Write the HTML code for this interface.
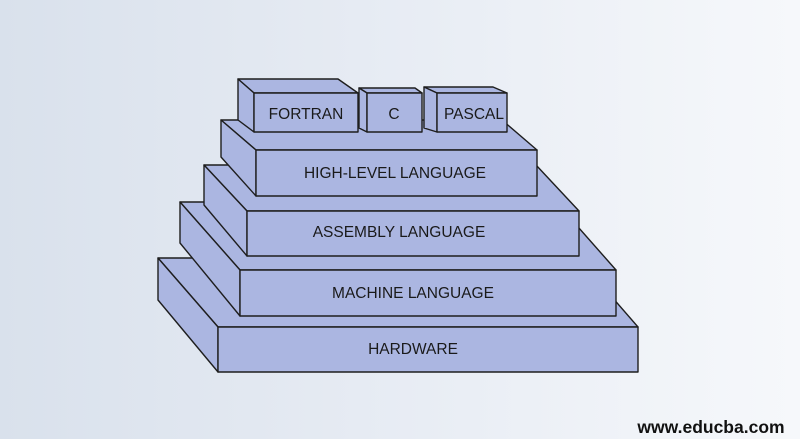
<!DOCTYPE html>
<html><head><style>
html,body{margin:0;padding:0}
body{width:800px;height:439px;overflow:hidden;background:linear-gradient(90deg,#d9e1ec 0%,#e6ebf3 45%,#f6f8fb 100%);}
svg{position:absolute;left:0;top:0}
text{font-family:"Liberation Sans","DejaVu Sans",sans-serif;font-size:15.5px;fill:#1a1a1a;text-anchor:middle}
</style></head><body>
<svg width="800" height="439" viewBox="0 0 800 439">
<g fill="#abb6e1" stroke="#1e1e1e" stroke-width="1.4" stroke-linejoin="round">
<polygon points="158,258 578,258 638,327 218,327"/>
<polygon points="158,258 218,327 218,372 158,300"/>
<rect x="218" y="327" width="420" height="45"/>
<polygon points="180,202 556,202 616,270 240,270"/>
<polygon points="180,202 240,270 240,316 180,243"/>
<rect x="240" y="270" width="376" height="46"/>
<polygon points="204,165 536,165 579,211 247,211"/>
<polygon points="204,165 247,211 247,256 204,205"/>
<rect x="247" y="211" width="332" height="45"/>
<polygon points="221,120 502,120 537,150 256,150"/>
<polygon points="221,120 256,150 256,196 221,157"/>
<rect x="256" y="150" width="281" height="46"/>
<polygon points="238,79 338,79 358,93 254,93"/>
<polygon points="238,79 254,93 254,132 238,120"/>
<rect x="254" y="93" width="104" height="39"/>
<polygon points="359,88 415,88 422,93 367,93"/>
<polygon points="359,88 367,93 367,132 359,128"/>
<rect x="367" y="93" width="55" height="39"/>
<polygon points="424,87 493,87 507,93 437,93"/>
<polygon points="424,87 437,93 437,132 424,128"/>
<rect x="437" y="93" width="70" height="39"/>
</g>
<text x="306" y="119">FORTRAN</text>
<text x="394" y="119">C</text>
<text x="474" y="119">PASCAL</text>
<text x="395" y="178">HIGH-LEVEL LANGUAGE</text>
<text x="399" y="237">ASSEMBLY LANGUAGE</text>
<text x="413" y="298">MACHINE LANGUAGE</text>
<text x="413" y="354">HARDWARE</text>
<text x="711" y="433" style="font-size:17.5px;font-weight:bold;fill:#111">www.educba.com</text>
</svg>
</body></html>
